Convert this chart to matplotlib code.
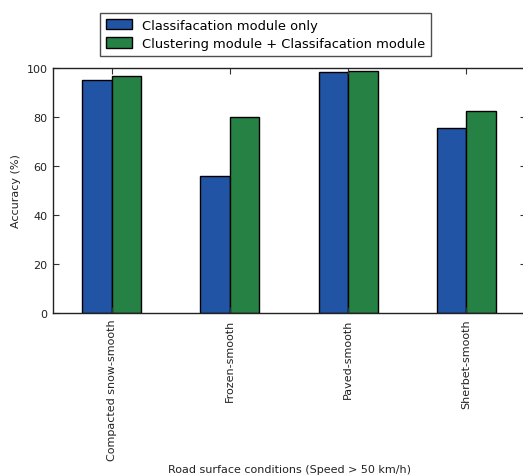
import matplotlib
matplotlib.use("Agg")
import matplotlib.pyplot as plt
import numpy as np

# Road surface accuracy comparison (speed > 50 km/h)
conditions = ["Compacted snow-smooth", "Frozen-smooth", "Paved-smooth", "Sherbet-smooth"]
classification_only = [95.1, 56.0, 98.2, 75.6]
clustering_plus_classification = [96.6, 79.8, 98.8, 82.3]
series_labels = ["Classifacation module only",
                 "Clustering module + Classifacation module"]
yticks = [0, 20, 40, 60, 80, 100]

plt.rcParams["font.family"] = "DejaVu Sans"

fig = plt.figure(figsize=(5.23, 4.77), dpi=100)
# the axes run a little past the right edge of the figure
ax = fig.add_axes([52.5 / 523, 1 - 314 / 477, 473 / 523, 245 / 477])

x = np.arange(len(conditions))
width = 0.25
b1 = ax.bar(x - width / 2, classification_only, width, color="#2254a5",
            edgecolor="black", linewidth=1.0, label=series_labels[0])
b2 = ax.bar(x + width / 2, clustering_plus_classification, width,
            color="#268144", edgecolor="black", linewidth=1.0,
            label=series_labels[1])

ax.set_xlim(-0.5, len(conditions) - 0.5)
ax.set_ylim(0, 100)
ax.set_yticks(yticks)
ax.set_xticks(x)
ax.set_xticklabels(conditions, rotation=90, fontsize=8)
ax.tick_params(axis="both", direction="in", top=True, right=True,
               length=4, width=0.8, labelsize=8, colors="#333333",
               labelcolor="#222222")
ax.tick_params(axis="x", pad=4)
for spine in ax.spines.values():
    spine.set_linewidth(1.0)
    spine.set_color("#222222")

ax.set_xlabel("Road surface conditions (Speed > 50 km/h)", fontsize=8,
              color="#222222", labelpad=3)
ax.set_ylabel("Accuracy (%)", fontsize=8, color="#222222", labelpad=4)

leg = fig.legend(handles=[b1, b2], loc="upper center",
                 bbox_to_anchor=(0.508, 0.985), fontsize=9.4, frameon=True,
                 fancybox=False, handlelength=2.0, handleheight=0.9,
                 borderpad=0.45, labelspacing=0.4, handletextpad=0.8)
leg.get_frame().set_edgecolor("#222222")
leg.get_frame().set_linewidth(1.0)

fig.savefig("out.png", dpi=100)
